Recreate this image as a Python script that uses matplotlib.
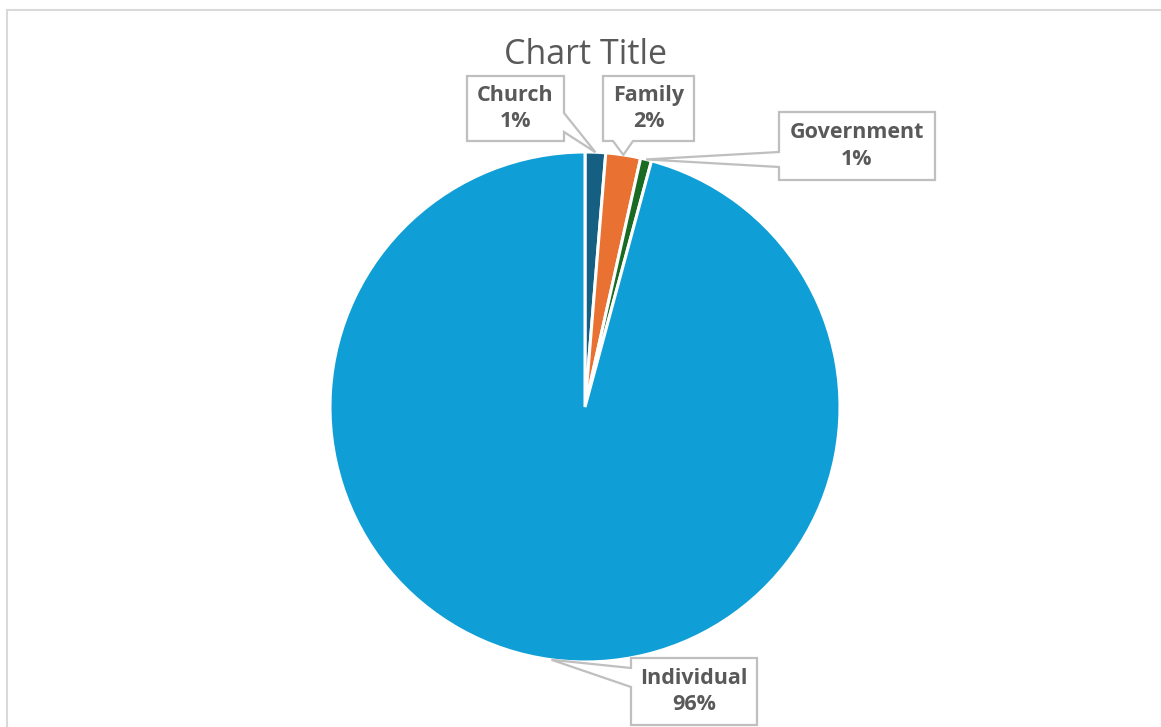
import matplotlib.pyplot as plt
from matplotlib.patches import Polygon, Rectangle
import numpy as np

# %% data
categories = ["Church", "Family", "Government", "Individual"]
shares = [1.3, 2.2, 0.7, 95.8]
colors = ["#156082", "#E97132", "#196B24", "#0F9ED5"]

W, H = 1161, 727
cx, cy, radius = 585, 407, 255  # pie centre / radius in screen pixels (y down)

plt.rcParams["font.family"] = ["Open Sans", "DejaVu Sans"]

fig = plt.figure(figsize=(W / 100, H / 100), dpi=100)
ax = fig.add_axes([0, 0, 1, 1])


def sy(y):
    return H - y


# outer chart frame
ax.add_patch(Rectangle((7, sy(740)), 1155, 730, fill=False, ec="#d9d9d9", lw=1.5))

wedges, _ = ax.pie(
    shares,
    colors=colors,
    startangle=90,
    counterclock=False,
    center=(cx, sy(cy)),
    radius=radius,
    wedgeprops=dict(edgecolor="white", linewidth=2.2),
    frame=True,
)
ax.set_xlim(0, W)
ax.set_ylim(0, H)
ax.set_aspect("equal")
ax.axis("off")

ax.text(cx, sy(64), "Chart Title", ha="center", va="baseline", fontsize=24.5, color="#595959")

# %% callouts: box (x0, y0, x1, y1), side carrying the pointer, base of the pointer along that side
callouts = {
    "Church": ((467, 76, 564, 141), "right", (113, 132)),
    "Family": ((603, 76, 694, 141), "bottom", (613, 633)),
    "Government": ((779, 112, 935, 180), "left", (152, 167)),
    "Individual": ((631, 658, 757, 725), "left", (668, 687)),
}

for wedge, name, share in zip(wedges, categories, shares):
    theta = np.deg2rad((wedge.theta1 + wedge.theta2) / 2)
    px = wedge.center[0] + wedge.r * np.cos(theta)
    py = wedge.center[1] + wedge.r * np.sin(theta)

    (x0, y0, x1, y1), side, (b0, b1) = callouts[name]
    if side == "right":
        pts = [(x0, y0), (x1, y0), (x1, b0), None, (x1, b1), (x1, y1), (x0, y1)]
    elif side == "bottom":
        pts = [(x0, y0), (x1, y0), (x1, y1), (b1, y1), None, (b0, y1), (x0, y1)]
    else:
        pts = [(x0, y0), (x1, y0), (x1, y1), (x0, y1), (x0, b1), None, (x0, b0)]
    verts = [(px, py) if p is None else (p[0], sy(p[1])) for p in pts]
    ax.add_patch(Polygon(verts, closed=True, fc="white", ec="#bfbfbf", lw=1.6, zorder=3))
    ax.text(
        (x0 + x1) / 2,
        sy((y0 + y1) / 2),
        f"{name}\n{round(share)}%",
        ha="center",
        va="center",
        fontsize=15.5,
        fontweight="bold",
        color="#595959",
        linespacing=1.32,
        zorder=4,
    )

fig.savefig("out.png", dpi=100)
